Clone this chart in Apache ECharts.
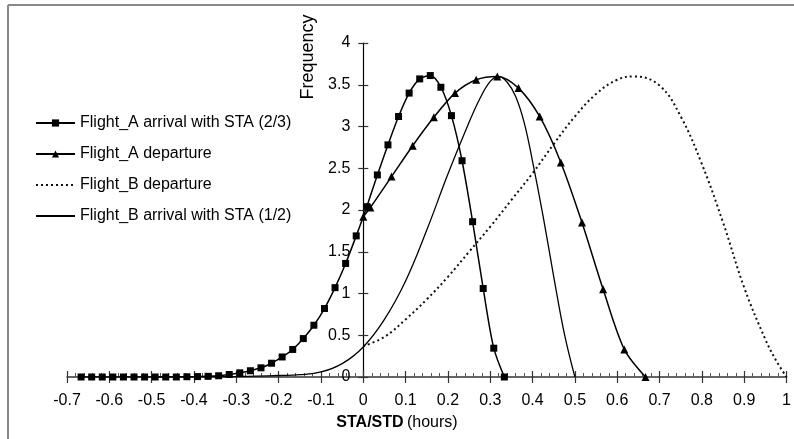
<!DOCTYPE html>
<html><head><meta charset="utf-8">
<script src="https://cdn.jsdelivr.net/npm/echarts@6/dist/echarts.min.js"></script>
<style>html,body{margin:0;padding:0;background:#fff}#c{width:794px;height:439px}</style>
</head><body><div id="c"></div>
<script>
// ---- data ----
const seriesNames = ['Flight_A arrival with STA (2/3)', 'Flight_A departure', 'Flight_B departure', 'Flight_B arrival with STA (1/2)'];

const aArrivalX = [-0.6667,-0.6417,-0.6167,-0.5917,-0.5667,-0.5417,-0.5167,-0.4917,-0.4667,-0.4417,
  -0.4167,-0.3917,-0.3667,-0.3417,-0.3167,-0.2917,-0.2667,-0.2417,-0.2167,-0.1917,
  -0.1667,-0.1417,-0.1167,-0.0917,-0.0667,-0.0417,-0.0167,0.0083,0.0333,0.0583,
  0.0833,0.1083,0.1333,0.1583,0.1833,0.2083,0.2333,0.2583,0.2833,0.3083,0.3333];
const aArrivalY = [0,0,0,0,0,0,0,0,0,0,
  0.003,0.005,0.008,0.015,0.03,0.05,0.075,0.11,0.165,0.24,
  0.33,0.46,0.62,0.82,1.07,1.36,1.69,2.04,2.42,2.78,
  3.12,3.40,3.57,3.61,3.47,3.13,2.59,1.86,1.06,0.345,0];

const aDepartureX = [0,0.0167,0.0667,0.1167,0.1667,0.2167,0.2667,0.3167,0.3667,0.4167,0.4667,0.5167,0.5667,0.6167,0.6667];
const aDepartureY = [1.92,2.03,2.40,2.77,3.11,3.40,3.56,3.60,3.46,3.12,2.57,1.85,1.05,0.33,0];

const bDepartureX = [0,0.05,0.1,0.15,0.2,0.25,0.3,0.35,0.4,0.45,0.5,0.55,0.6,0.64,0.7,0.75,0.8,0.85,0.9,0.95,0.975,1];
const bDepartureY = [0.37,0.48,0.69,0.93,1.2,1.5,1.8,2.12,2.44,2.79,3.12,3.39,3.56,3.6,3.49,3.12,2.55,1.85,1.07,0.45,0.2,0];

const bArrivalX = [-0.5,-0.45,-0.4,-0.35,-0.3,-0.25,-0.2,-0.15,-0.1,-0.05,0,0.05,0.1,0.15,0.2,0.25,0.275,0.3,0.32,0.34,0.36,0.38,0.4,0.425,0.45,0.475,0.5];
const bArrivalY = [0,0.0005,0.001,0.003,0.006,0.011,0.018,0.028,0.06,0.16,0.36,0.69,1.15,1.76,2.43,3.05,3.33,3.54,3.6,3.53,3.36,3.05,2.58,1.92,1.2,0.52,0];

const xMin = -0.7, xMax = 1, xStep = 0.1;
const yMin = 0, yMax = 4, yStep = 0.5;
const xTitleBold = 'STA/STD', xTitleRest = '(hours)';
const yTitle = 'Frequency';

// ---- chart ----
const FONT = '"Liberation Sans", Arial, sans-serif';
const GRID = {left: 67, right: 7, top: 43, bottom: 62};
const pairs = (xs, ys) => xs.map((x, i) => [x, ys[i]]);
const chart = echarts.init(document.getElementById('c'), null, {renderer: 'canvas'});

const baseX = {type: 'value', min: xMin, max: xMax, interval: xStep, splitLine: {show: false}};
const baseY = {type: 'value', min: yMin, max: yMax, interval: yStep, splitLine: {show: false}};
const noSym = {itemStyle: {opacity: 0}};

chart.setOption({
  animation: false,
  backgroundColor: '#fff',
  textStyle: {fontFamily: FONT},
  grid: Object.assign({containLabel: false}, GRID),
  legend: {
    orient: 'vertical', left: 30, top: 110,
    itemWidth: 39, itemHeight: 9, itemGap: 15,
    textStyle: {fontSize: 16, color: '#000', fontFamily: FONT},
    data: [
      {name: seriesNames[0]},
      {name: seriesNames[1]},
      Object.assign({name: seriesNames[2]}, noSym),
      Object.assign({name: seriesNames[3]}, noSym)
    ]
  },
  xAxis: [
    Object.assign({}, baseX, {
      position: 'bottom',
      axisLine: {show: true, onZero: false, lineStyle: {color: '#333', width: 1.5}},
      axisTick: {show: true, inside: false, length: 6, lineStyle: {color: '#333', width: 1.2}},
      axisLabel: {show: true, margin: 16, fontSize: 16, color: '#000', fontFamily: FONT}
    }),
    Object.assign({}, baseX, {
      position: 'bottom',
      axisLine: {show: false, onZero: false},
      axisTick: {show: true, inside: true, length: 6, lineStyle: {color: '#333', width: 1.2}},
      minorTick: {show: true, splitNumber: 5, length: 4, lineStyle: {color: '#555', width: 1}},
      axisLabel: {show: false}
    })
  ],
  yAxis: [
    Object.assign({}, baseY, {
      position: 'left',
      axisLine: {show: true, onZero: false, lineStyle: {color: '#000', width: 1.2}},
      axisTick: {show: true, inside: false, length: 5, lineStyle: {color: '#333', width: 1.2}},
      axisLabel: {show: true, margin: 13, fontSize: 16, color: '#000', fontFamily: FONT}
    }),
    Object.assign({}, baseY, {
      position: 'left',
      axisLine: {show: false, onZero: false},
      axisTick: {show: true, inside: true, length: 5, lineStyle: {color: '#333', width: 1.2}},
      axisLabel: {show: false}
    })
  ],
  graphic: [
    {type: 'line', shape: {x1: 8, y1: 5, x2: 794, y2: 5}, style: {stroke: '#888', lineWidth: 2}, silent: true},
    {type: 'line', shape: {x1: 8, y1: 5, x2: 8, y2: 439}, style: {stroke: '#888', lineWidth: 2}, silent: true},
    {type: 'text', x: 308, y: 57, rotation: Math.PI / 2,
      style: {text: yTitle, font: '18px ' + FONT, fill: '#000', align: 'center', verticalAlign: 'middle'}},
    {type: 'text', x: 397, y: 423,
      style: {text: '{b|' + xTitleBold + '} {n|' + xTitleRest + '}', fill: '#000', align: 'center', verticalAlign: 'middle',
        rich: {b: {fontWeight: 'bold', fontSize: 16, fontFamily: FONT, fill: '#000'},
               n: {fontSize: 16, fontFamily: FONT, fill: '#000'}}}}
  ],
  series: [
    {name: seriesNames[0], type: 'line', xAxisIndex: 0, yAxisIndex: 0,
      data: pairs(aArrivalX, aArrivalY), smooth: 0.3,
      symbol: 'rect', symbolSize: 7, showAllSymbol: true,
      lineStyle: {color: '#000', width: 1.5}, itemStyle: {color: '#000'}},
    {name: seriesNames[1], type: 'line', xAxisIndex: 0, yAxisIndex: 0,
      data: pairs(aDepartureX, aDepartureY), smooth: 0.3,
      symbol: 'triangle', symbolSize: 8, showAllSymbol: true,
      lineStyle: {color: '#000', width: 1.5}, itemStyle: {color: '#000'}},
    {name: seriesNames[2], type: 'line', xAxisIndex: 0, yAxisIndex: 0,
      data: pairs(bDepartureX, bDepartureY), smooth: 0.4,
      symbol: 'none',
      lineStyle: {color: '#111', width: 2, type: [2, 3]}, itemStyle: {color: '#111'}},
    {name: seriesNames[3], type: 'line', xAxisIndex: 0, yAxisIndex: 0,
      data: pairs(bArrivalX, bArrivalY), smooth: 0.4,
      symbol: 'none',
      lineStyle: {color: '#000', width: 1.3}, itemStyle: {color: '#000'}}
  ]
});

// place the y axis on x = 0 (labels included), as in the reference
const zeroPx = chart.convertToPixel({xAxisIndex: 0}, 0);
const yOff = -(zeroPx - GRID.left);
chart.setOption({yAxis: [{offset: yOff}, {offset: yOff}]});
</script>
</body></html>
